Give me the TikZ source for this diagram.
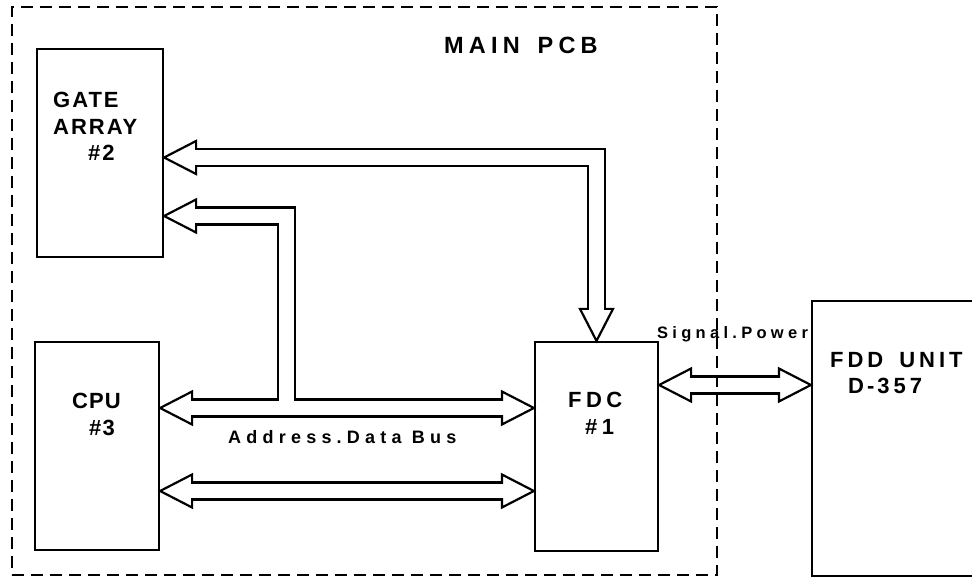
\documentclass[tikz,border=0pt]{standalone}
\usepackage{fontspec}
\setmainfont{Liberation Sans}
\usetikzlibrary{calc}
% hollow arrow heads (tip, pointing left / right / down)
\newcommand{\headL}[1]{\filldraw[hollowtip] (#1) -- ++(32,-16.5) -- ++(0,33) -- cycle;}
\newcommand{\headR}[1]{\filldraw[hollowtip] (#1) -- ++(-32,-16.5) -- ++(0,33) -- cycle;}
\newcommand{\headD}[1]{\filldraw[hollowtip] (#1) -- ++(-16.5,-32) -- ++(33,0) -- cycle;}
\begin{document}
\begin{tikzpicture}[x=1pt, y=-1pt, line join=miter,
	box/.style={draw, line width=2.2pt, inner sep=0pt},
	pcbframe/.style={draw, dash pattern=on 12pt off 7pt, line width=1.5pt, inner sep=0pt},
	hollowtip/.style={draw=black, fill=white, line width=2.2pt, line join=miter},
	buswall/.style={line width=19.2pt},
	busgap/.style={draw=white, line width=14.8pt},
	lab/.style={inner sep=0pt, font=\fontsize{22}{26.5}\selectfont\bfseries\addfontfeature{LetterSpace=#1}},
	pcblab/.style={inner sep=0pt, font=\fontsize{23.5}{26}\selectfont\bfseries\addfontfeature{LetterSpace=#1}},
	buslab/.style={inner sep=0pt, font=\fontsize{18}{20}\selectfont\bfseries\addfontfeature{LetterSpace=#1}},
	siglab/.style={inner sep=0pt, font=\fontsize{16.5}{18}\selectfont\bfseries\addfontfeature{LetterSpace=#1}}]
	\useasboundingbox (0,0) rectangle (972,577);
	\clip (0,0) rectangle (972,577);
	% boxes
	\node[box, minimum width=126pt, minimum height=208pt] (gate) at (100,153) {};
	\node[box, minimum width=124pt, minimum height=208pt] (cpu) at (97,446) {};
	\node[box, minimum width=123pt, minimum height=209pt] (fdc) at (596.5,446.5) {};
	\node[box, minimum width=173pt, minimum height=275pt] (fdd) at (898.5,438.5) {};
	% labels
	\node[lab=9, anchor=north west, align=left] (gatetext) at (53,92) {GATE\\ARRAY\\\hspace*{35pt}\#2};
	\node[lab=5, anchor=north west, align=left] (cputext) at (72,393) {CPU\\\hspace*{17pt}\#3};
	\node[lab=20, anchor=north west, align=left] (fdctext) at (568,392) {FDC\\\hspace*{17pt}\#1};
	\node[lab=18, anchor=north west, align=left] (fddtext) at (830,352) {FDD\hspace{16pt}UNIT\\\hspace*{18pt}D\hspace{3pt}-\hspace{3pt}357};
	\node[pcblab=22, anchor=base west] (pcbtext) at (444,54) {MAIN\hspace{18pt}PCB};
	\node[buslab=29, anchor=base west] (bustext) at (228,443) {Address.Data Bus};
	\node[siglab=26, anchor=base west] (sigtext) at (657,338) {Signal.Power};
	% bus end points
	\coordinate (a1) at (cpu.east |- 0,408);
	\coordinate (a2) at (fdc.west |- 0,408);
	\coordinate (b1) at (cpu.east |- 0,491);
	\coordinate (b2) at (fdc.west |- 0,491);
	\coordinate (s1) at (fdc.east |- 0,385);
	\coordinate (s2) at (fdd.west |- 0,385);
	\coordinate (g1) at (gate.east |- 0,157.5);
	\coordinate (g2) at (fdc.north);
	\coordinate (h1) at (gate.east |- 0,216);
	\coordinate (tap) at (286.5,408);
	% bus walls
	\draw[buswall] ($(a1)+(30,0)$) -- ($(a2)-(30,0)$);
	\draw[buswall] ($(b1)+(30,0)$) -- ($(b2)-(30,0)$);
	\draw[buswall] ($(s1)+(30,0)$) -- ($(s2)-(30,0)$);
	\draw[buswall] ($(g1)+(30,0)$) -- (g1 -| g2) -- ($(g2)-(0,30)$);
	\draw[buswall] ($(h1)+(30,0)$) -- (h1 -| tap) -- (tap);
	% heads
	\headL{a1} \headR{a2}
	\headL{b1} \headR{b2}
	\headL{s1} \headR{s2}
	\headL{g1} \headD{g2}
	\headL{h1}
	% bus insides
	\draw[busgap] ($(a1)+(29,0)$) -- ($(a2)-(29,0)$);
	\draw[busgap] ($(b1)+(29,0)$) -- ($(b2)-(29,0)$);
	\draw[busgap] ($(s1)+(29,0)$) -- ($(s2)-(29,0)$);
	\draw[busgap] ($(g1)+(29,0)$) -- (g1 -| g2) -- ($(g2)-(0,29)$);
	\draw[busgap] ($(h1)+(29,0)$) -- (h1 -| tap) -- (tap);
	% main pcb frame
	\node[pcbframe, minimum width=705pt, minimum height=568pt] (pcb) at (364.5,291) {};
\end{tikzpicture}
\end{document}
